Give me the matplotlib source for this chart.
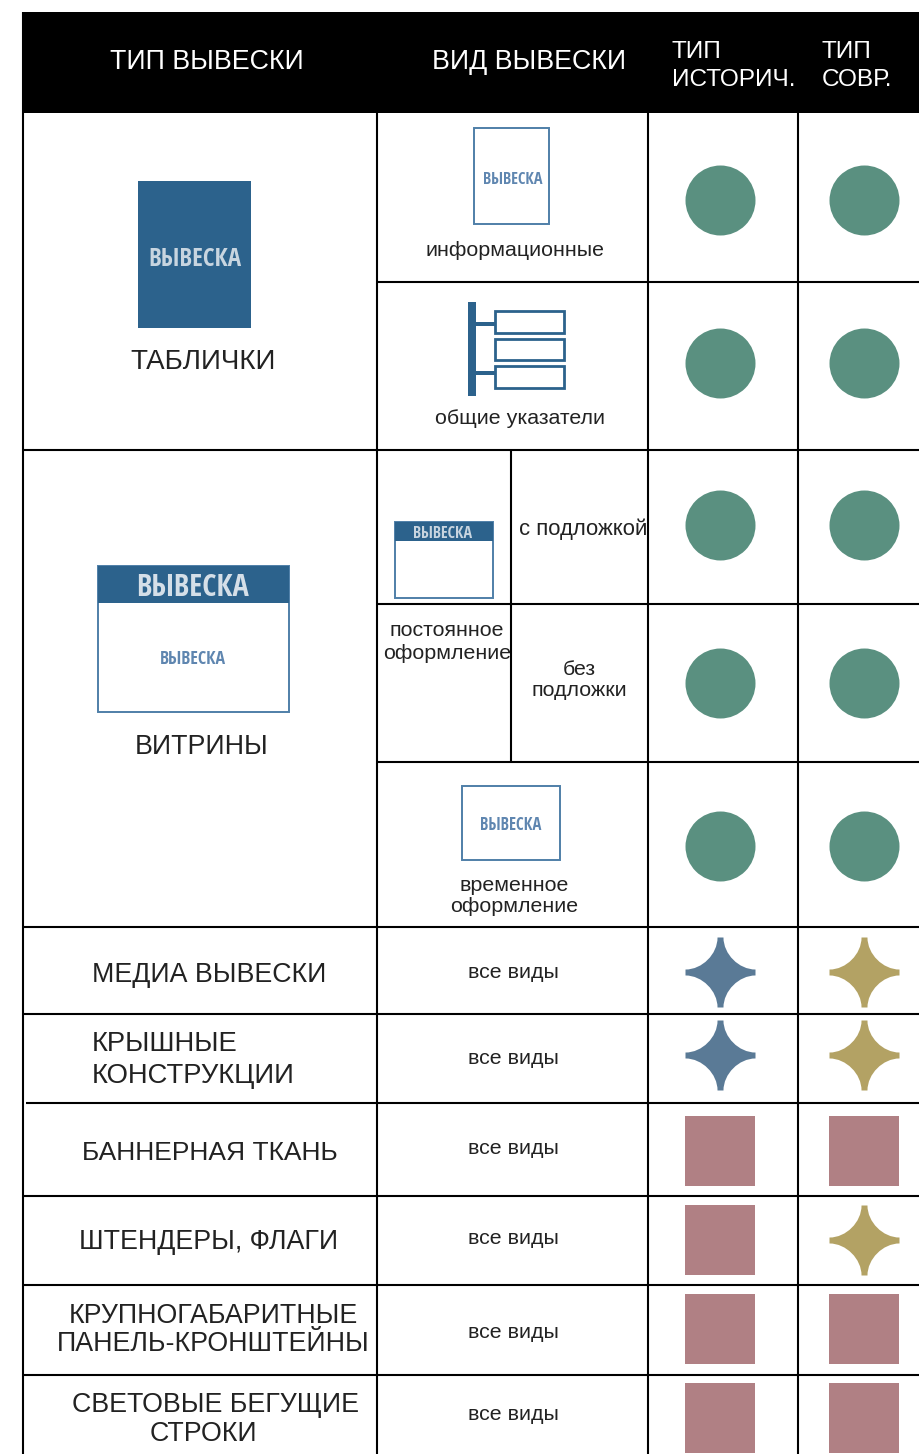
import logging
import matplotlib
matplotlib.use('Agg')
import matplotlib.pyplot as plt
from matplotlib.patches import Rectangle
from matplotlib.path import Path

logging.getLogger('matplotlib.font_manager').setLevel(logging.ERROR)
plt.rcParams['font.family'] = ['Liberation Sans', 'DejaVu Sans']

# данные таблицы
headers = ['ТИП ВЫВЕСКИ', 'ВИД ВЫВЕСКИ', 'ТИП\nИСТОРИЧ.', 'ТИП\nСОВР.']
big_types = ['ТАБЛИЧКИ', 'ВИТРИНЫ']
other_types = ['МЕДИА ВЫВЕСКИ', 'КРЫШНЫЕ\nКОНСТРУКЦИИ', 'БАННЕРНАЯ ТКАНЬ', 'ШТЕНДЕРЫ, ФЛАГИ',
               'КРУПНОГАБАРИТНЫЕ\nПАНЕЛЬ-КРОНШТЕЙНЫ', 'СВЕТОВЫЕ БЕГУЩИЕ', 'СТРОКИ']
all_kinds = 'все виды'
sign_word = 'ВЫВЕСКА'

# c = круг, s = звезда, r = квадрат
mark_rows = [200, 363, 525, 683, 846, 972, 1055, 1151, 1240, 1329, 1418]
hist_marks = ['c', 'c', 'c', 'c', 'c', 's', 's', 'r', 'r', 'r', 'r']
modern_marks = ['c', 'c', 'c', 'c', 'c', 's', 's', 'r', 's', 'r', 'r']

BLUE = '#2c628c'
LINE_BLUE = '#4f7fa8'
WORD_BLUE = '#5f86b0'
TEXT = '#222222'

fig = plt.figure(figsize=(9.19, 14.54), dpi=100)
ax = fig.add_axes([0, 0, 1, 1])
ax.set_xlim(0, 919)
ax.set_ylim(1454, 0)
ax.axis('off')

# шапка
ax.add_patch(Rectangle((23, 12), 896, 101, fc='black', ec='none'))
hdr = dict(color='white', fontsize=19.3, va='center')
ax.text(207, 62, headers[0], ha='center', **hdr)
ax.text(529.5, 62, headers[1], ha='center', **hdr)
hdr2 = dict(color='white', fontsize=17.6, va='center', linespacing=1.32)
ax.text(672, 66, headers[2], ha='left', **hdr2)
ax.text(822, 66, headers[3], ha='left', **hdr2)

# сетка
for x, y0, y1 in [(23, 12, 1454), (377, 113, 1454), (648, 113, 1454), (798, 113, 1454), (511, 450, 762)]:
    ax.plot([x, x], [y0, y1], color='black', lw=1.5, solid_capstyle='butt', zorder=3)
for y, x0 in [(282, 377), (450, 23), (604, 377), (762, 377), (927, 23), (1014, 23),
              (1103, 26), (1196, 23), (1285, 23), (1375, 23)]:
    ax.plot([x0, 919], [y, y], color='black', lw=1.5, solid_capstyle='butt', zorder=3)

# первая колонка
big = dict(color=TEXT, fontsize=19.3, va='center', ha='center')
ax.text(203, 362, big_types[0], color=TEXT, fontsize=20, va='center', ha='center')
ax.text(202, 747, big_types[1], **big)
ax.text(209, 975, other_types[0], **big)
ax.text(92, 1060, other_types[1], color=TEXT, fontsize=19.7, va='center', ha='left', linespacing=1.28)
ax.text(210, 1153, other_types[2], color=TEXT, fontsize=19, va='center', ha='center')
ax.text(209, 1242, other_types[3], **big)
ax.text(213.5, 1330, other_types[4], color=TEXT, fontsize=19.3, va='center', ha='center', linespacing=1.1)
ax.text(215, 1405, other_types[5], **big)
ax.text(203, 1434, other_types[6], **big)

# вторая колонка
small = dict(color=TEXT, fontsize=15.4, va='center', ha='center')
ax.text(515, 251, 'информационные', **small)
ax.text(520, 419, 'общие указатели', **small)
ax.text(519, 529, 'с подложкой', color=TEXT, fontsize=15.9, va='center', ha='left')
ax.text(447, 642, 'постоянное\nоформление', linespacing=1.28, **small)
ax.text(579, 680, 'без\nподложки', linespacing=1.12, **small)
ax.text(514, 896, 'временное\nоформление', linespacing=1.15, **small)
for y in [971, 1058, 1148, 1237, 1331, 1413]:
    ax.text(513.5, y + 1, all_kinds, color=TEXT, fontsize=15.4, va='center', ha='center')


def word(x, y, size, color):
    ax.text(x, y, sign_word, family=['Open Sans Condensed', 'Roboto Condensed', 'PT Sans Narrow', 'Liberation Sans'],
            fontsize=size, color=color, fontweight='bold', ha='center', va='center')


def box(x0, y0, x1, y1, fc='white', ec=LINE_BLUE, lw=1.4):
    ax.add_patch(Rectangle((x0, y0), x1 - x0, y1 - y0, fc=fc, ec=ec, lw=lw))


# иконки
box(138, 181, 251, 328, fc=BLUE, ec='none')
word(195, 259, 18, '#c8d5e0')
box(474, 128, 549, 224)
word(512.5, 179.5, 11.6, WORD_BLUE)

ax.add_patch(Rectangle((468, 302), 8, 94, fc=BLUE, ec='none'))
ax.add_patch(Rectangle((476, 322), 20, 4, fc=BLUE, ec='none'))
ax.add_patch(Rectangle((476, 371), 20, 4, fc=BLUE, ec='none'))
for y0, y1 in [(311, 333), (339, 360), (366, 388)]:
    box(495, y0, 564, y1, ec=BLUE, lw=2)

box(98, 566, 289, 712)
box(98, 566, 289, 603, fc=BLUE, ec='none')
word(193, 588, 22, '#d5dfe8')
word(193, 659, 12.9, WORD_BLUE)
box(395, 522, 493, 598)
box(395, 522, 493, 541, fc=BLUE, ec='none')
word(443, 534, 11.5, '#c8d5e0')
box(462, 786, 560, 860)
word(511, 825, 12, WORD_BLUE)

# форма звезды
k = 0.52
a = 0.085
r = 1 - a
verts = [(-a, 1), (a, 1), (a, 1 - r * k), (1 - r * k, a), (1, a),
         (1, -a), (1 - r * k, -a), (a, -(1 - r * k)), (a, -1),
         (-a, -1), (-a, -(1 - r * k)), (-(1 - r * k), -a), (-1, -a),
         (-1, a), (-(1 - r * k), a), (-a, 1 - r * k), (-a, 1), (-a, 1)]
codes = [Path.MOVETO, Path.LINETO, Path.CURVE4, Path.CURVE4, Path.CURVE4,
         Path.LINETO, Path.CURVE4, Path.CURVE4, Path.CURVE4,
         Path.LINETO, Path.CURVE4, Path.CURVE4, Path.CURVE4,
         Path.LINETO, Path.CURVE4, Path.CURVE4, Path.CURVE4, Path.CLOSEPOLY]
star = Path(verts, codes)

shapes = {'c': 'o', 'r': 's', 's': star}
colors_hist = {'c': '#5a9080', 's': '#5a7a96', 'r': '#b08084'}
colors_modern = {'c': '#5a9080', 's': '#b3a264', 'r': '#b08084'}
size = (70 * 0.72) ** 2

for col_x, kinds, pal in [(720.2, hist_marks, colors_hist), (863.5, modern_marks, colors_modern)]:
    for y, m in zip(mark_rows, kinds):
        ax.scatter([col_x], [y], s=size, marker=shapes[m], color=pal[m], linewidths=0, zorder=2)

plt.savefig('out.png', dpi=100)
